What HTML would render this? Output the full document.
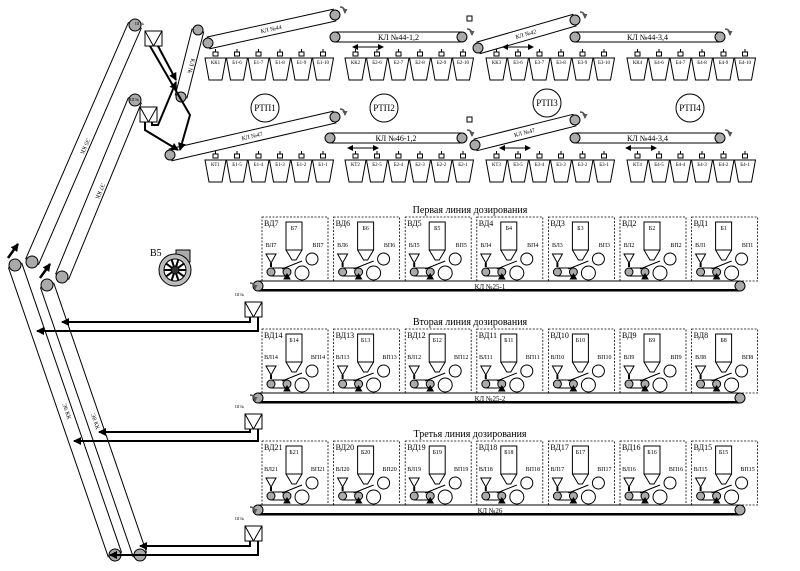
<!DOCTYPE html>
<html><head><meta charset="utf-8"><style>
html,body{margin:0;padding:0;background:#fff;}
svg{display:block;font-family:"Liberation Serif",serif;}
</style></head><body>
<svg id="s" width="800" height="571" viewBox="0 0 800 571" xmlns="http://www.w3.org/2000/svg">
<defs>
<marker id="ah" markerUnits="userSpaceOnUse" markerWidth="8" markerHeight="8" refX="7" refY="4" orient="auto"><path d="M0,0 L8,4 L0,8 z" fill="#000"/></marker>
<marker id="as" markerUnits="userSpaceOnUse" markerWidth="5" markerHeight="5" refX="4" refY="2.5" orient="auto"><path d="M0,0 L5,2.5 L0,5 z" fill="#555"/></marker>
<marker id="ad" markerUnits="userSpaceOnUse" markerWidth="6" markerHeight="6" refX="3" refY="3" orient="auto-start-reverse"><path d="M0,0 L6,3 L0,6 z" fill="#000"/></marker>
</defs>
<g id="g" stroke="#000" fill="none" stroke-width="1"></g>
<text x="470" y="213" font-size="10" text-anchor="middle">Первая линия дозирования</text>
<text x="470" y="325" font-size="10" text-anchor="middle">Вторая линия дозирования</text>
<text x="470" y="437" font-size="10" text-anchor="middle">Третья линия дозирования</text>
<text x="150" y="256" font-size="10">В5</text>
</svg>
<script>
var g=document.getElementById('g'),h='';
function L(x1,y1,x2,y2,w){h+='<line x1="'+x1+'" y1="'+y1+'" x2="'+x2+'" y2="'+y2+'"'+(w?' stroke-width="'+w+'"':'')+'/>';}
function C(x,y,r,f){h+='<circle cx="'+x+'" cy="'+y+'" r="'+r+'" fill="'+(f||'#aaa')+'"/>';}
function T(x,y,t,s,a,rot){h+='<text x="'+x+'" y="'+y+'" font-size="'+(s||6)+'" stroke="none" fill="#000"'+(a?' text-anchor="'+a+'"':'')+(rot?' transform="rotate('+rot+' '+x+' '+y+')"':'')+'>'+t+'</text>';}
function R(x,y,w,hh,ex){h+='<rect x="'+x+'" y="'+y+'" width="'+w+'" height="'+hh+'" '+(ex||'')+'/>';}
function belt(x1,y1,x2,y2,r,lab){var dx=x2-x1,dy=y2-y1,l=Math.hypot(dx,dy),nx=-dy/l*r,ny=dx/l*r;
 L(x1+nx,y1+ny,x2+nx,y2+ny);L(x1-nx,y1-ny,x2-nx,y2-ny);C(x1,y1,r-1);C(x2,y2,r-1);
 if(lab){var a=Math.atan2(dy,dx)*180/Math.PI;T((x1+x2)/2,(y1+y2)/2+2,lab,6,'middle',a);}}
function hbelt(x1,x2,y,lab){R(x1,y-5,x2-x1,10,'fill="#fff"');C(x1,y,5);C(x2,y,5);if(lab)T((x1+x2)/2,y+3,lab,8,'middle');}
function curl(x,y){h+='<path d="M'+x+','+y+' q5,0 5,6" stroke-width="1.5" stroke="#555" marker-end="url(#as)"/>';}
function bunkers(x0,y0,labs){for(var i=0;i<6;i++){var x=x0+i*21.5;
 h+='<path d="M'+x+','+y0+' h21 l-4,22 h-13 z"/>';R(x+8,y0-6,5,4,'fill="#fff"');L(x+10.5,y0-9,x+10.5,y0-6);T(x+10.5,y0+6,labs[i],5,'middle');}}
var up=[["КК1","Б1-6","Б1-7","Б1-8","Б1-9","Б1-10"],["КК2","Б2-6","Б2-7","Б2-8","Б2-9","Б2-10"],["КК3","Б3-6","Б3-7","Б3-8","Б3-9","Б3-10"],["КК4","Б4-6","Б4-7","Б4-8","Б4-9","Б4-10"]];
var lo=[["КТ1","Б1-5","Б1-4","Б1-3","Б1-2","Б1-1"],["КТ2","Б2-5","Б2-4","Б2-3","Б2-2","Б2-1"],["КТ3","Б3-5","Б3-4","Б3-3","Б3-2","Б3-1"],["КТ4","Б4-5","Б4-4","Б4-3","Б4-2","Б4-1"]];
var gx=[205,345,486,627];
for(var k=0;k<4;k++){bunkers(gx[k],58,up[k]);bunkers(gx[k],160,lo[k]);}
belt(208,43,335,15,6,'КЛ №44');hbelt(335,462,37,'КЛ №44-1,2');belt(478,48,575,20,6,'КЛ №42');hbelt(575,720,37,'КЛ №44-3,4');
belt(170,155,335,117,6,'КЛ №47');hbelt(330,462,138,'КЛ №46-1,2');belt(475,145,575,120,6,'КЛ №47');hbelt(575,720,138,'КЛ №44-3,4');
[[335,15],[462,37],[720,37],[575,20],[335,117],[462,138],[720,138],[575,120]].forEach(function(p){curl(p[0]+5,p[1]-8);});
[[355,47],[505,47],[350,148],[628,148],[502,148]].forEach(function(p){h+='<path d="M'+p[0]+','+p[1]+' h26" marker-end="url(#ad)" marker-start="url(#ad)"/>';});
R(467,16,5,5);R(467,117,5,5);
[[265,108,'РТП1'],[384,108,'РТП2'],[547,103,'РТП3'],[690,108,'РТП4']].forEach(function(p){C(p[0],p[1],14,'#fff');T(p[0],p[1]+3,p[2],9,'middle');});
belt(198,30,181,97,6,'КЛ №');
belt(135,25,32,262,7,'Э5 КК');belt(135,100,62,277,7,'Э7 КК');
belt(15,265,115,555,7,'Э6 КК');belt(47,285,140,555,7,'Э8 КК');
h+='<path d="M8,258 l10,-14" stroke-width="2.5" marker-end="url(#ah)"/><path d="M40,278 l10,-14" stroke-width="2.5" marker-end="url(#ah)"/>';
function tbox(x,y,lab){R(x,y,17,15,'fill="#fff"');L(x,y,x+8.5,y+15);L(x+17,y,x+8.5,y+15);T(x-1,y-6,lab,4,'end');}
tbox(145,31,'Ш №');tbox(140,107,'Ш №');
h+='<path d="M150,46 L190,115 L180,150" stroke-width="2" marker-end="url(#ah)"/><path d="M158,46 L176,80" stroke-width="2" marker-end="url(#ah)"/>';
h+='<path d="M145,122 V130 L178,150" stroke-width="2" marker-end="url(#ah)"/><path d="M152,122 V125 L158,125 L176,82" stroke-width="2" marker-end="url(#ah)"/>';
var rows=[[217,286,1],[329,398,8],[441,510,15]];var kl=['КЛ №25-1','КЛ №25-2','КЛ №26'];
var arr=[[322,60,331,35],[432,97,441,72],[546,138,555,108]];
rows.forEach(function(r,ri){for(var i=0;i<7;i++){var x=262+i*71.6,y=r[0],n=r[2]+6-i;
 R(x,y,66,64,'stroke-dasharray="2,1.5" stroke-width="0.8"');T(x+2,y+9,'ВД'+n,8);
 R(x+24,y+5,16,28);T(x+32,y+13,'Б'+n,6,'middle');h+='<path d="M'+(x+24)+','+(y+33)+' l6,10 h4 l6,-10"/>';
 T(x+9,y+30,'ВЛ'+n,6,'middle');T(x+56,y+30,'ВП'+n,6,'middle');
 h+='<path d="M'+(x+4)+','+(y+37)+' h10 l-5,9 z"/>';L(x+9,y+46,x+9,y+50,2);
 L(x+20,y+52,x+40,y+44);C(x+50,y+42,6,'#fff');C(x+9,y+55,4);C(x+25,y+55,4);C(x+40,y+56,7,'#fff');
 L(x+9,y+51,x+25,y+51);L(x+9,y+59,x+25,y+59);h+='<path d="M'+(x+22)+','+(y+62)+' l3,-5 l3,5 z" fill="#000"/>';}
 var y=r[1];R(258,y-5,482,10,'fill="#fff"');L(258,y+4,740,y+4,2);C(258,y,5);C(740,y,5);T(490,y+3,kl[ri],7,'middle');
 curl(250,y-3);tbox(245,y+16,'Ш №');
 var a=arr[ri];h+='<path d="M250,'+(y+31)+' V'+a[0]+' H'+(a[1]+2)+'" stroke-width="2" marker-end="url(#ah)"/><path d="M258,'+(y+31)+' V'+a[2]+' H'+(a[3]+2)+'" stroke-width="2" marker-end="url(#ah)"/>';});
h+='<rect x="176" y="250" width="14" height="12" fill="#aaa"/>';C(175,270,16,'#bbb');C(175,270,11,'#fff');C(175,270,4,'#333');
for(var i=0;i<10;i++){var a=i*Math.PI/5;L(175+4*Math.cos(a),270+4*Math.sin(a),175+11*Math.cos(a),270+11*Math.sin(a),2);}
g.innerHTML=h;
</script>
</body></html>
